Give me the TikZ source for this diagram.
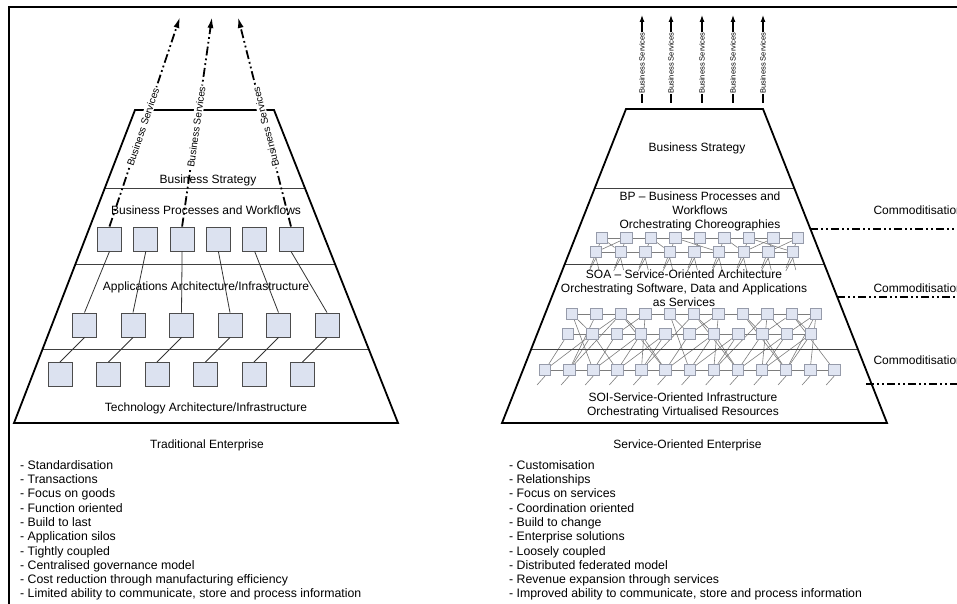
\documentclass[tikz,border=0pt]{standalone}
\usepackage{fontspec}
\setmainfont{Liberation Sans}
\usetikzlibrary{arrows.meta,calc}
\pgfdeclarelayer{bg}
\pgfsetlayers{bg,main}
\definecolor{boxfill}{RGB}{220,226,240}
\definecolor{netfill}{RGB}{224,229,242}
\definecolor{netline}{RGB}{125,125,125}
\definecolor{netdraw}{RGB}{150,155,170}
\tikzset{
  frameline/.style={line width=2.5pt, line cap=rect},
  pyr/.style={line width=1.8pt, line join=miter},
  divline/.style={line width=1pt, draw=black!75},
  lbox/.style={draw=black!70, fill=boxfill, minimum size=24pt, inner sep=0pt, line width=0.9pt},
  lconn/.style={draw=black!80, line width=0.8pt},
  svcarrow/.style={line width=1.8pt, dash pattern=on 9pt off 3pt on 1.8pt off 3pt on 1.8pt off 3pt, -{Latex[length=11pt,width=6pt]}},
  svclabel/.style={font=\fontsize{10}{12}\selectfont, fill=white, inner sep=1pt, sloped},
  svcarrowsmall/.style={line width=1.2pt, -{Latex[length=7pt,width=5pt]}},
  svcsmall/.style={font=\fontsize{7.5}{9}\selectfont, fill=white, inner sep=0.6pt, rotate=90},
  nbox/.style={draw=netdraw, fill=netfill, minimum size=11.5pt, inner sep=0pt, line width=0.6pt},
  nline/.style={draw=netline, line width=0.6pt},
  commline/.style={line width=2pt, dash pattern=on 8pt off 3pt on 2pt off 3pt on 2pt off 3pt},
  listtxt/.style={anchor=west, align=left, inner sep=0pt, font=\fontsize{12.3}{14.3}\selectfont},
}
\begin{document}
\begin{tikzpicture}[x=1pt, y=-1pt, font=\fontsize{12}{14}\selectfont]
\useasboundingbox (0,0) rectangle (957,604);
\clip (0,0) rectangle (957,604);

% frame
\draw[frameline] (9,610) -- (9,7) -- (960,7);

% ================= LEFT PYRAMID =================
\coordinate (LTL) at (135,110);
\coordinate (LTR) at (274,110);
\coordinate (LBR) at (398,423);
\coordinate (LBL) at (14,423);
\draw[divline] (104.8,188) -- (304.9,188);
\draw[divline] (75.5,264) -- (335,264);
\draw[divline] (42.6,349) -- (368.7,349);
\draw[pyr] (LTL) -- (LTR) -- (LBR) -- (LBL) -- cycle;

\node (lbs) at (208,180) {Business Strategy};
\node (lbp) at (206,210) {Business Processes and Workflows};
\node (laa) at (206,287) {Applications Architecture/Infrastructure};
\node (lta) at (206,408) {Technology Architecture/Infrastructure};

\foreach \i in {1,...,6} {
  \node[lbox] (ra\i) at ({109.5+36.3*(\i-1)},239) {};
  \node[lbox] (rb\i) at ({84.5+48.5*(\i-1)},325) {};
  \node[lbox] (rc\i) at ({60+48.5*(\i-1)},374.5) {};
}
\foreach \i in {1,...,6} {
  \draw[lconn] (ra\i.south) -- (rb\i.north);
  \draw[lconn] (rb\i.south) -- (rc\i.north);
}

\coordinate (la1) at (180,17);
\coordinate (la2) at (212,17);
\coordinate (la3) at (238,17);
\draw[svcarrow] (ra1.north) -- node[svclabel, pos=0.475] {Business Services} (la1);
\draw[svcarrow] (ra3.north) -- node[svclabel, pos=0.475] {Business Services} (la2);
\draw[svcarrow] (ra6.north) -- node[svclabel, pos=0.475, allow upside down] {Business Services} (la3);

\node (ltitle) at (207,445) {Traditional Enterprise};
\node[listtxt] (llist) at (20,530.4) {- Standardisation\\- Transactions\\- Focus on goods\\- Function oriented\\- Build to last\\- Application silos\\- Tightly coupled\\- Centralised governance model\\- Cost reduction through manufacturing efficiency\\- Limited ability to communicate, store and process information};

% ================= RIGHT PYRAMID =================
\coordinate (RTL) at (626,109);
\coordinate (RTR) at (763,109);
\coordinate (RBR) at (887,423);
\coordinate (RBL) at (502,423);
\draw[divline] (595,188) -- (794.2,188);
\draw[divline] (565.2,264) -- (824.2,264);
\draw[divline] (532,349) -- (857.8,349);

% network boxes
\foreach \i in {0,...,8} {
  \node[nbox] (A\i) at ({602+24.5*\i},238) {};
  \node[nbox] (B\i) at ({596+24.6*\i},252) {};
  \coordinate (as\i) at ({602+24.5*\i-12},268);
  \coordinate (bs\i) at ({596+24.6*\i-7},271);
  \coordinate (bt\i) at ({596+24.6*\i+3},270);
}
\foreach \i in {0,...,10} {
  \node[nbox] (C\i) at ({572+24.4*\i},314) {};
  \node[nbox] (D\i) at ({568+24.3*\i},334) {};
}
\foreach \i in {0,...,12} {
  \node[nbox] (E\i) at ({545+24.1*\i},370) {};
  \coordinate (es\i) at ({545+24.1*\i-8},385);
}

\begin{pgfonlayer}{bg}
  \foreach \i [evaluate=\i as \j using int(\i+1)] in {0,...,7} {
    \draw[nline] (A\i) -- (A\j);
    \draw[nline] (B\i) -- (B\j);
  }
  \foreach \i [evaluate=\i as \j using int(\i+1)] in {0,...,9} {
    \draw[nline] (C\i) -- (C\j);
    \draw[nline] (D\i) -- (D\j);
  }
  \foreach \i [evaluate=\i as \j using int(\i+1)] in {0,...,11} {
    \draw[nline] (E\i) -- (E\j);
  }
  \foreach \i/\j in {0/1,1/0,2/3,3/5,4/4,5/6,6/8,7/6,8/7}
    \draw[nline] (A\i) -- (B\j);
  \foreach \i in {0,...,8} {
    \draw[nline] (A\i) -- (as\i);
    \draw[nline] (B\i.south) -- (bs\i);
    \draw[nline] (B\i.south) -- (bt\i);
  }
  \foreach \i/\j in {0/1,2/1,2/3,3/2,4/5,5/6,6/5,7/8,8/9,9/8,9/10,10/9}
    \draw[nline] (C\i) -- (D\j);
  \foreach \i in {0,...,10}
    \draw[nline] (E\i) -- (D\i);
  \foreach \i [evaluate=\i as \j using int(\i+1)] in {0,2,3,5,6,8,9}
    \draw[nline] (E\i) -- (D\j);
  \foreach \i/\j in {0/2,1/1,2/5,3/4,4/6,5/8,6/7,7/10,8/9,9/12,10/11}
    \draw[nline] (C\i) -- (E\j);
  \foreach \i/\j in {1/3,3/5,6/8,8/10}
    \draw[nline] (D\i) -- (E\j);
  \foreach \i/\j in {1/2,4/5,7/8,10/10}
    \draw[nline] (E\i) -- (C\j);
  \foreach \i in {0,...,12}
    \draw[nline] (E\i.south) -- (es\i);
\end{pgfonlayer}

\draw[pyr] (RTL) -- (RTR) -- (RBR) -- (RBL) -- cycle;

\node (rbs) at (697,148) {Business Strategy};
\node[align=center] (rbp) at (700,211) {BP – Business Processes and\\Workflows\\Orchestrating Choreographies};
\node[align=center] (rsoa) at (684,288) {SOA – Service-Oriented Architecture\\Orchestrating Software, Data and Applications\\as Services};
\node[align=center] (rsoi) at (683,405.5) {SOI-Service-Oriented Infrastructure\\Orchestrating Virtualised Resources};

% small service arrows
\foreach \x [count=\k] in {642,671,702,733,763} {
  \coordinate (rs\k) at (\x,103);
  \coordinate (re\k) at (\x,15);
}
\foreach \k in {1,...,5}
  \draw[svcarrowsmall] (rs\k) -- node[svcsmall, pos=0.4545] {Business Services} (re\k);

% commoditisation
\node[anchor=west] (cm1) at (870,210) {Commoditisation};
\node[anchor=west] (cm2) at (870,288) {Commoditisation};
\node[anchor=west] (cm3) at (870,360) {Commoditisation};
\coordinate (cs1) at (810.4,229); \coordinate (ce1) at (960,229);
\coordinate (cs2) at (837.3,297); \coordinate (ce2) at (960,297);
\coordinate (cs3) at (866,384);   \coordinate (ce3) at (960,384);
\draw[commline] (cs1) -- (ce1);
\draw[commline] (cs2) -- (ce2);
\draw[commline] (cs3) -- (ce3);

\node (rtitle) at (687.5,445) {Service-Oriented Enterprise};
\node[listtxt] (rlist) at (509,530.4) {- Customisation\\- Relationships\\- Focus on services\\- Coordination oriented\\- Build to change\\- Enterprise solutions\\- Loosely coupled\\- Distributed federated model\\- Revenue expansion through services\\- Improved ability to communicate, store and process information};
\end{tikzpicture}
\end{document}
